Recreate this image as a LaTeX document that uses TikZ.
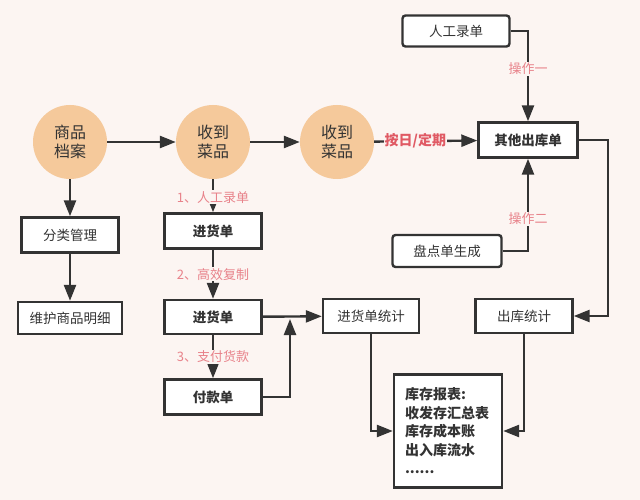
\documentclass[tikz,border=0pt]{standalone}
\usepackage{fontspec}
\setmainfont{Noto Sans CJK SC}
\usetikzlibrary{arrows.meta}
\definecolor{bgc}{HTML}{FCF5F2}
\definecolor{circc}{HTML}{F5C99B}
\definecolor{linec}{HTML}{333333}
\definecolor{textc}{HTML}{333333}
\definecolor{labc}{HTML}{E8828A}
\definecolor{labr}{HTML}{E05A64}
\begin{document}
\begin{tikzpicture}[x=1pt,y=-1pt,
  box/.style={draw=linec, line width=2.4pt, fill=white, minimum width=97pt, minimum height=35pt, inner sep=0pt, font=\fontsize{13.5}{16}\selectfont, text=textc},
  rbox/.style={box, rounded corners=3pt},
  bbox/.style={box, font=\fontsize{13.5}{16}\selectfont\bfseries},
  circ/.style={circle, fill=circc, minimum size=74pt, inner sep=0pt, align=center, text=textc, font=\fontsize{16}{19}\selectfont},
  arr/.style={draw=linec, line width=2.4pt, -{Triangle[length=16pt,width=12pt]}},
  lab/.style={fill=bgc, text=labc, inner sep=1pt, font=\fontsize{13}{15}\selectfont},
  labb/.style={fill=bgc, text=labr, inner sep=1pt, font=\fontsize{14}{16}\selectfont\bfseries}]
\fill[bgc] (0,0) rectangle (640,500);
\useasboundingbox (0,0) rectangle (640,500);
% circles
\node[circ] (c1) at (70,142) {商品\\档案};
\node[circ] (c2) at (213,142) {收到\\菜品};
\node[circ] (c3) at (337,142) {收到\\菜品};
% left column
\node[box] (fl) at (70,235) {分类管理};
\node[box, minimum width=104pt, minimum height=32pt] (wh) at (70,318) {维护商品明细};
% middle column
\node[bbox] (jh1) at (213,231) {进货单};
\node[bbox, minimum height=34pt] (jh2) at (213,317) {进货单};
\node[bbox] (fk) at (213,397) {付款单};
\node[box, minimum width=96pt, minimum height=34pt] (jtj) at (371,316) {进货单统计};
% right column
\node[rbox, minimum width=107pt, minimum height=31pt] (rg) at (456,31) {人工录单};
\node[bbox, minimum width=99pt] (qt) at (528,140) {其他出库单};
\node[rbox, minimum width=109pt, minimum height=32pt] (pd) at (447,251) {盘点单生成};
\node[box, minimum height=34pt] (ctj) at (524,316) {出库统计};
\node[box, minimum width=108pt, minimum height=113pt, text width=86pt, align=left,
      font=\fontsize{14}{18.5}\selectfont\bfseries] (kc) at (448,431) {库存报表:\\收发存汇总表\\库存成本账\\出入库流水\\......};
% helper coordinates
\coordinate (jn) at (290,319);
\coordinate (qr) at (608,140);
% connectors
\draw[arr] (c1) -- (c2);
\draw[arr] (c2) -- (c3);
\draw[arr] (c3) -- node[labb, pos=0.4]{按日/定期} (qt);
\draw[arr] (c1) -- (fl);
\draw[arr] (fl) -- (wh);
\draw[arr] (c2) -- node[lab, pos=0.55]{1、人工录单} (jh1);
\draw[arr] (jh1) -- node[lab, pos=0.5]{2、高效复制} (jh2);
\draw[arr] (jh2) -- node[lab, pos=0.5]{3、支付货款} (fk);
\draw[arr] (jh2) -- (jtj);
\draw[arr] (fk.east) -| (jn);
\draw[arr] (rg.east) -| node[lab, pos=0.71]{操作一} (qt.north);
\draw[arr] (pd.east) -| node[lab, pos=0.675]{操作二} (qt.south);
\draw[arr] (qt.east) -- (qr) |- (ctj.east);
\draw[arr] (jtj.south) |- (kc.west);
\draw[arr] (ctj.south) |- (kc.east);
\end{tikzpicture}
\end{document}
